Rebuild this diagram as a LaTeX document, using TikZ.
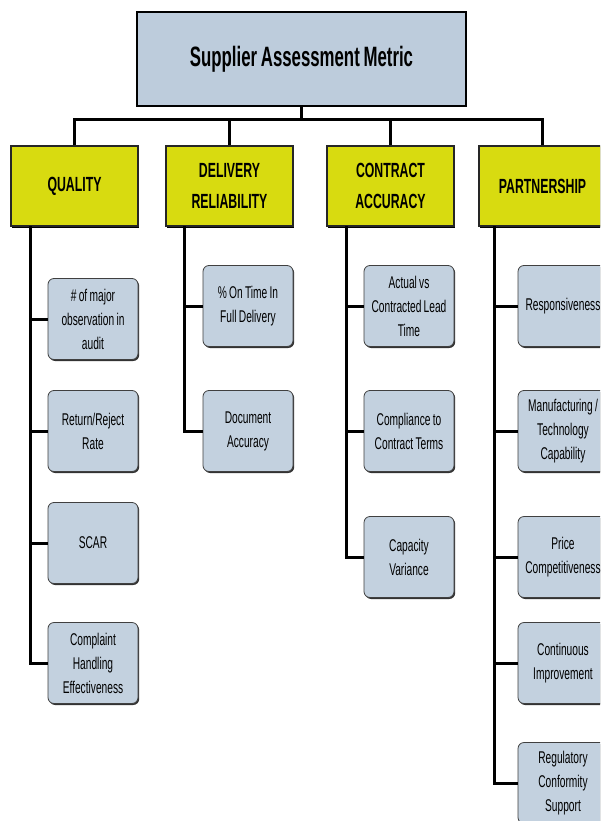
\documentclass[tikz,border=0pt]{standalone}
\usepackage{fontspec}
\newfontfamily\narrowfont{Liberation Sans}[FakeStretch=0.6, WordSpace=0.55]
\newfontfamily\headfont{Liberation Sans}[FakeStretch=0.6, WordSpace=0.8]
\usetikzlibrary{shadows}
\definecolor{topblue}{HTML}{BDCCDC}
\definecolor{childblue}{HTML}{C3D1DF}
\definecolor{catyellow}{HTML}{D8DB10}
\tikzset{
  topbox/.style={draw=black, line width=2pt, fill=topblue, minimum width=329pt, minimum height=94pt,
    font=\headfont\bfseries\fontsize{28}{32}\selectfont,
    drop shadow={shadow xshift=0.8pt, shadow yshift=-1.5pt, fill=black, opacity=1}},
  catbox/.style={draw=black!85, line width=1.5pt, fill=catyellow, minimum width=127pt, minimum height=80pt,
    align=center, font=\headfont\bfseries\fontsize{20.5}{31}\selectfont,
    drop shadow={shadow xshift=0.8pt, shadow yshift=-1.5pt, fill=black, opacity=1}},
  childbox/.style={draw=black!75, line width=0.8pt, fill=childblue, rounded corners=6pt,
    minimum width=90pt, minimum height=81pt, align=center,
    font=\narrowfont\fontsize{17}{24}\selectfont,
    drop shadow={shadow xshift=1.2pt, shadow yshift=-1.5pt, fill=black!80, opacity=1}},
  conn/.style={draw=black, line width=3pt},
}
\begin{document}
\begin{tikzpicture}[x=1pt, y=-1pt]
\clip (0,0) rectangle (600,821);
\fill[white] (0,0) rectangle (600,821);

% top
\node[topbox] (top) at (301.5,59) {Supplier Assessment Metric};
\coordinate (bus) at (301.5,120);

% categories
\node[catbox] (q) at (74.5,186) {QUALITY};
\node[catbox] (d) at (229.5,186) {DELIVERY\\RELIABILITY};
\node[catbox] (c) at (390.5,186) {CONTRACT\\ACCURACY};
\node[catbox] (p) at (542.5,186) {PARTNERSHIP};

% children quality
\node[childbox] (q1) at (93,319) {\# of major\\observation in\\audit};
\node[childbox] (q2) at (93,431) {Return/Reject\\Rate};
\node[childbox] (q3) at (93,543) {SCAR};
\node[childbox] (q4) at (93,663) {Complaint\\Handling\\Effectiveness};

% delivery
\node[childbox] (d1) at (248,306) {\% On Time In\\Full Delivery};
\node[childbox] (d2) at (248,431) {Document\\Accuracy};

% contract
\node[childbox] (c1) at (409,306) {Actual vs\\Contracted Lead\\Time};
\node[childbox] (c2) at (409,431) {Compliance to\\Contract Terms};
\node[childbox] (c3) at (409,557) {Capacity\\Variance};

% partnership
\node[childbox] (p1) at (563,306) {Responsiveness};
\node[childbox] (p2) at (563,431) {Manufacturing /\\Technology\\Capability};
\node[childbox] (p3) at (563,557) {Price\\Competitiveness};
\node[childbox] (p4) at (563,663) {Continuous\\Improvement};
\node[childbox] (p5) at (563,783) {Regulatory\\Conformity\\Support};

% stem coordinates
\coordinate (qs) at (30,226);
\coordinate (ds) at (184,226);
\coordinate (cs) at (346,226);
\coordinate (ps) at (494,226);

% connectors top
\draw[conn] (top.south) -- (bus);
\draw[conn] (q.north) |- (bus);
\draw[conn] (d.north) |- (bus);
\draw[conn] (c.north) |- (bus);
\draw[conn] (p.north) |- (bus);

% connectors children
\foreach \s/\ch in {qs/q1,qs/q2,qs/q3,qs/q4,ds/d1,ds/d2,cs/c1,cs/c2,cs/c3,ps/p1,ps/p2,ps/p3,ps/p4,ps/p5}{
  \draw[conn] (\s) |- (\ch.west);
}
\end{tikzpicture}
\end{document}
